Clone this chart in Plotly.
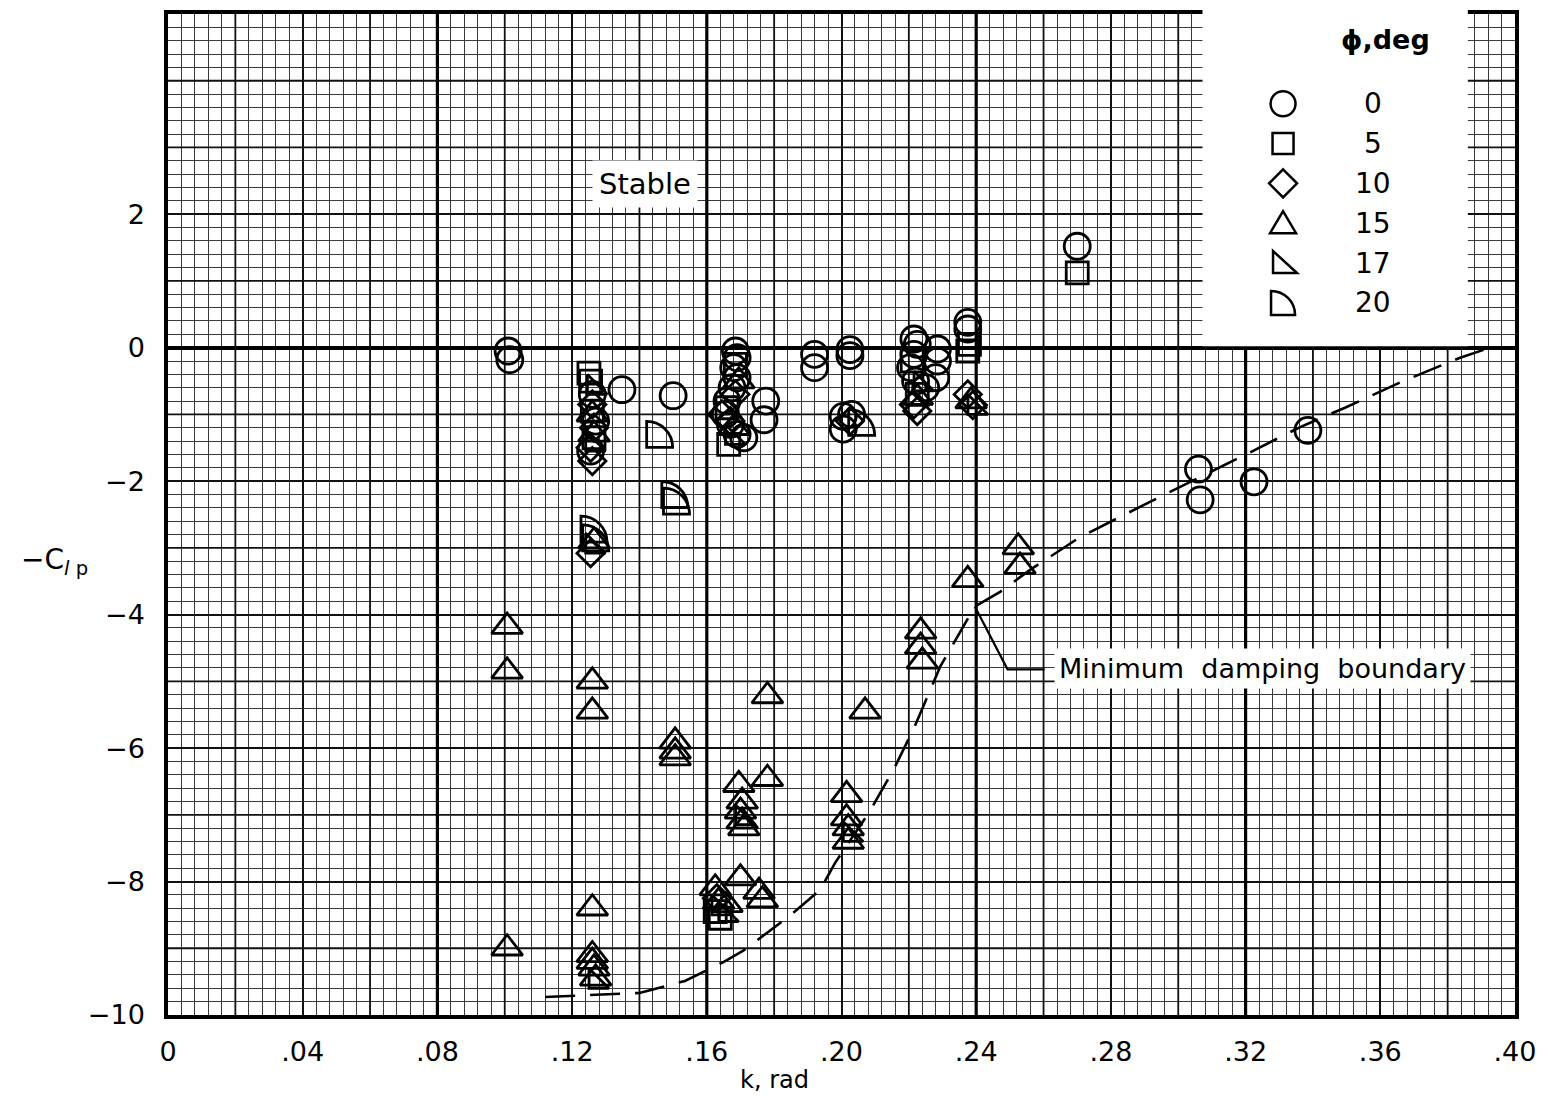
import plotly.graph_objects as go

# ---------------- data ----------------
# phi = 0 deg (circles)
phi0_k = [0.101, 0.1015, 0.126, 0.127, 0.1255, 0.1348, 0.150,
          0.1685, 0.169, 0.168, 0.169, 0.1675, 0.166, 0.1655, 0.167, 0.169, 0.171,
          0.1775, 0.177, 0.192, 0.192, 0.2025, 0.2025, 0.2005, 0.2005, 0.203,
          0.2215, 0.2225, 0.2215, 0.2205, 0.222, 0.2285, 0.2285, 0.228, 0.225,
          0.2375, 0.2375, 0.270, 0.306, 0.3065, 0.3225, 0.3385]
phi0_v = [-0.05, -0.18, -0.7, -1.1, -1.55, -0.63, -0.72,
          -0.05, -0.15, -0.3, -0.45, -0.6, -0.8, -1.0, -1.15, -1.3, -1.35,
          -0.8, -1.08, -0.1, -0.3, -0.03, -0.12, -1.03, -1.22, -1.0,
          0.13, 0.05, -0.1, -0.3, -0.5, -0.02, -0.2, -0.45, -0.6,
          0.38, 0.28, 1.52, -1.82, -2.28, -2.01, -1.24]

# phi = 5 deg (squares)
phi5_k = [0.125, 0.1255, 0.126, 0.1265, 0.1665, 0.1685, 0.166, 0.221, 0.2225,
          0.238, 0.2375, 0.270, 0.1625, 0.164]
phi5_v = [-0.38, -0.5, -0.95, -1.35, -1.45, -0.25, -0.9, -0.2, -0.7,
          0.05, -0.05, 1.12, -8.45, -8.55]

# phi = 10 deg (diamonds)
phi10_k = [0.126, 0.1265, 0.1255, 0.126, 0.1255, 0.167, 0.1685, 0.1645,
           0.2215, 0.2225, 0.2375, 0.239, 0.2025, 0.163]
phi10_v = [-0.85, -1.2, -1.5, -1.7, -3.08, -1.1, -0.7, -1.0,
           -0.85, -0.95, -0.7, -0.86, -1.1, -8.25]

# phi = 15 deg (triangles)
phi15_k = [0.126, 0.1265, 0.168, 0.1695, 0.2225, 0.2385,
           0.1007, 0.1007, 0.1007, 0.126, 0.126, 0.126, 0.126, 0.126, 0.1265, 0.127,
           0.1506, 0.1506, 0.1506, 0.1695, 0.1705, 0.170, 0.1705, 0.171,
           0.178, 0.178, 0.1625, 0.1635, 0.170, 0.1755, 0.1765, 0.166,
           0.2015, 0.2015, 0.202, 0.202, 0.207, 0.2235, 0.2235, 0.224,
           0.2375, 0.2525, 0.253, 0.1265]
phi15_v = [-1.0, -1.3, -1.2, -0.5, -0.75, -0.8,
           -4.18, -4.85, -9.0, -5.0, -5.45, -8.4, -9.1, -9.2, -9.3, -9.45,
           -5.9, -6.05, -6.15, -6.55, -6.8, -6.95, -7.1, -7.2,
           -5.22, -6.46, -8.1, -8.3, -7.95, -8.15, -8.28, -8.35,
           -6.7, -7.05, -7.2, -7.4, -5.45, -4.25, -4.48, -4.7,
           -3.48, -2.99, -3.28, -2.9]

# phi = 17 deg (right triangles)
phi17_k = [0.1265, 0.126, 0.1675, 0.2235, 0.2395, 0.1635, 0.1655, 0.127,
           0.1705, 0.2025, 0.126]
phi17_v = [-0.6, -1.45, -1.35, -0.55, -0.9, -8.4, -8.5, -9.5,
           -7.05, -7.3, -2.98]

# phi = 20 deg (quarter circles)
phi20_k = [0.146, 0.1505, 0.151, 0.206, 0.1265, 0.127]
phi20_v = [-1.3, -2.2, -2.3, -1.12, -2.72, -2.85]

# minimum damping boundary (dashed curve)
boundary_k = [0.112, 0.140, 0.1535, 0.1648, 0.1707, 0.1791, 0.1847, 0.1936, 0.1981,
              0.2085, 0.2156, 0.2218, 0.2293, 0.2396, 0.2471, 0.2560, 0.2708, 0.2916,
              0.3065, 0.3213, 0.3362, 0.3495, 0.3659, 0.3837, 0.3926]
boundary_v = [-9.73, -9.67, -9.49, -9.21, -9.04, -8.73, -8.51, -8.13, -7.72,
              -6.94, -6.31, -5.67, -4.78, -3.88, -3.66, -3.33, -2.84, -2.31,
              -1.94, -1.57, -1.19, -0.90, -0.52, -0.15, 0.0]

# leader from the curve to its label
leader_k = [0.2396, 0.2493, 0.2603]
leader_v = [-3.88, -4.82, -4.82]

x_tickvals = [0, 0.04, 0.08, 0.12, 0.16, 0.20, 0.24, 0.28, 0.32, 0.36, 0.40]
x_ticktext = ["0", ".04", ".08", ".12", ".16", ".20", ".24", ".28", ".32", ".36", ".40"]
y_tickvals = [-10, -8, -6, -4, -2, 0, 2]
y_ticktext = ["\u221210", "\u22128", "\u22126", "\u22124", "\u22122", "0", "2"]

legend_labels = ["0", "5", "10", "15", "17", "20"]

FONT = "DejaVu Sans"

# ---------------- figure ----------------
fig = go.Figure()

fig.add_trace(go.Scatter(x=boundary_k, y=boundary_v, mode="lines",
                         line=dict(color="black", width=2.6, dash="30px,15px"),
                         showlegend=False, hoverinfo="skip"))
fig.add_trace(go.Scatter(x=leader_k, y=leader_v, mode="lines",
                         line=dict(color="black", width=2.2),
                         showlegend=False, hoverinfo="skip"))


def marker_trace(k, v, symbol, size):
    return go.Scatter(x=k, y=v, mode="markers", showlegend=False,
                      marker=dict(symbol=symbol, size=size, color="black",
                                  line=dict(color="black", width=2.8)))


fig.add_trace(marker_trace(phi0_k, phi0_v, "circle-open", 26))
fig.add_trace(marker_trace(phi5_k, phi5_v, "square-open", 22))
fig.add_trace(marker_trace(phi10_k, phi10_v, "diamond-open", 21))
fig.add_trace(marker_trace(phi15_k, phi15_v, "triangle-up-open", 27))
fig.add_trace(marker_trace(phi17_k, phi17_v, "triangle-sw-open", 22))

shapes = []

# medium grid lines (every 0.02 in k and every 1 in -Clp, where no label grid exists)
for i in range(1, 20, 2):
    xv = i * 0.02
    shapes.append(dict(type="line", xref="x", yref="y", x0=xv, x1=xv, y0=-10, y1=5,
                       line=dict(color="#111111", width=1.8), layer="between"))
for yv in [-9, -7, -5, -3, -1, 1, 3, 4]:
    shapes.append(dict(type="line", xref="x", yref="y", x0=0, x1=0.4, y0=yv, y1=yv,
                       line=dict(color="#111111", width=1.8), layer="between"))
# heavy grid lines every 0.08
for i in range(1, 5):
    xv = i * 0.08
    shapes.append(dict(type="line", xref="x", yref="y", x0=xv, x1=xv, y0=-10, y1=5,
                       line=dict(color="black", width=3.2), layer="between"))


def quarter_path(R):
    h = R / 2.0
    c = -h + 0.5523 * R
    return (f"M{-h},{-h} L{-h},{h} C{c:.2f},{h} {h},{c:.2f} {h},{-h} Z")


# phi = 20 quarter circles, anchored at data values (pixel-sized marks)
for kk, vv in zip(phi20_k, phi20_v):
    shapes.append(dict(type="path", xref="x", yref="y", xsizemode="pixel", ysizemode="pixel",
                       xanchor=kk, yanchor=vv, path=quarter_path(26),
                       line=dict(color="black", width=2.8), fillcolor="rgba(0,0,0,0)",
                       layer="above"))

# legend white box
shapes.append(dict(type="rect", xref="paper", yref="paper", x0=0.768, x1=0.965,
                   y0=0.668, y1=1.02, fillcolor="white", line=dict(width=0), layer="above"))

# legend symbols
leg_x = 0.8278
leg_y = [0.9104, 0.8706, 0.8308, 0.7910, 0.7512, 0.7114]
leg_paths = [
    None,
    "M-10.5,-10.5 L-10.5,10.5 L10.5,10.5 L10.5,-10.5 Z",
    "M0,14 L14,0 L0,-14 L-14,0 Z",
    "M-13,-10 L13,-10 L0,12 Z",
    "M-10,12 L-10,-10 L14,-10 Z",
    quarter_path(24),
]
for i, yy in enumerate(leg_y):
    if i == 0:
        shapes.append(dict(type="circle", xref="paper", yref="paper", xsizemode="pixel",
                           ysizemode="pixel", xanchor=leg_x, yanchor=yy,
                           x0=-12.5, x1=12.5, y0=-12.5, y1=12.5,
                           line=dict(color="black", width=2.5), layer="above"))
    else:
        shapes.append(dict(type="path", xref="paper", yref="paper", xsizemode="pixel",
                           ysizemode="pixel", xanchor=leg_x, yanchor=yy, path=leg_paths[i],
                           line=dict(color="black", width=2.5), layer="above"))

annotations = []
annotations.append(dict(text="<b>\u03d5,deg</b>", xref="paper", yref="paper", x=0.9035, y=0.975,
                        xanchor="center", yanchor="middle", showarrow=False,
                        font=dict(family=FONT, size=27, color="black")))
for lab, yy in zip(legend_labels, leg_y):
    annotations.append(dict(text=lab, xref="paper", yref="paper", x=0.8946, y=yy,
                            xanchor="center", yanchor="middle", showarrow=False,
                            font=dict(family=FONT, size=28, color="black")))

annotations.append(dict(text="Stable", xref="x", yref="y", x=0.1417, y=2.45, showarrow=False,
                        xanchor="center", yanchor="middle", bgcolor="white", borderpad=6,
                        font=dict(family=FONT, size=29, color="black")))
annotations.append(dict(text="Minimum  damping  boundary", xref="x", yref="y", x=0.3249, y=-4.81,
                        xanchor="center", yanchor="middle", showarrow=False,
                        bgcolor="white", borderpad=4,
                        font=dict(family=FONT, size=27, color="black")))
annotations.append(dict(text="k, rad", xref="paper", yref="paper", x=0.4506, y=-0.0647,
                        xanchor="center", yanchor="middle", showarrow=False,
                        font=dict(family=FONT, size=24, color="black")))
annotations.append(dict(text="\u2212C<sub><i>l</i> p</sub>", xref="paper", yref="y", x=-0.084, y=-3.2,
                        xanchor="center", yanchor="middle", showarrow=False,
                        font=dict(family=FONT, size=28, color="black")))

fig.update_layout(
    width=1535, height=1092,
    margin=dict(l=160, r=28, t=2, b=85),
    paper_bgcolor="white", plot_bgcolor="white",
    showlegend=False,
    shapes=shapes,
    annotations=annotations,
    font=dict(family=FONT, size=26, color="black"),
    xaxis=dict(range=[0, 0.4], tickmode="array", tickvals=x_tickvals, ticktext=x_ticktext,
               showgrid=True, gridcolor="#111111", gridwidth=1.8,
               minor=dict(dtick=0.004, showgrid=True, gridcolor="#3a3a3a", gridwidth=1),
               zeroline=False, showline=True, linecolor="black", linewidth=3.5, mirror=True,
               ticks="", ticklabelstandoff=10,
               tickfont=dict(family=FONT, size=27, color="black")),
    yaxis=dict(range=[-10, 5], tickmode="array", tickvals=y_tickvals, ticktext=y_ticktext,
               showgrid=True, gridcolor="#111111", gridwidth=1.8,
               minor=dict(dtick=0.2, showgrid=True, gridcolor="#3a3a3a", gridwidth=1),
               zeroline=True, zerolinecolor="black", zerolinewidth=3.5,
               showline=True, linecolor="black", linewidth=3.5, mirror=True,
               ticks="", ticklabelstandoff=14,
               tickfont=dict(family=FONT, size=27, color="black")),
)

fig.write_html("out.html")
